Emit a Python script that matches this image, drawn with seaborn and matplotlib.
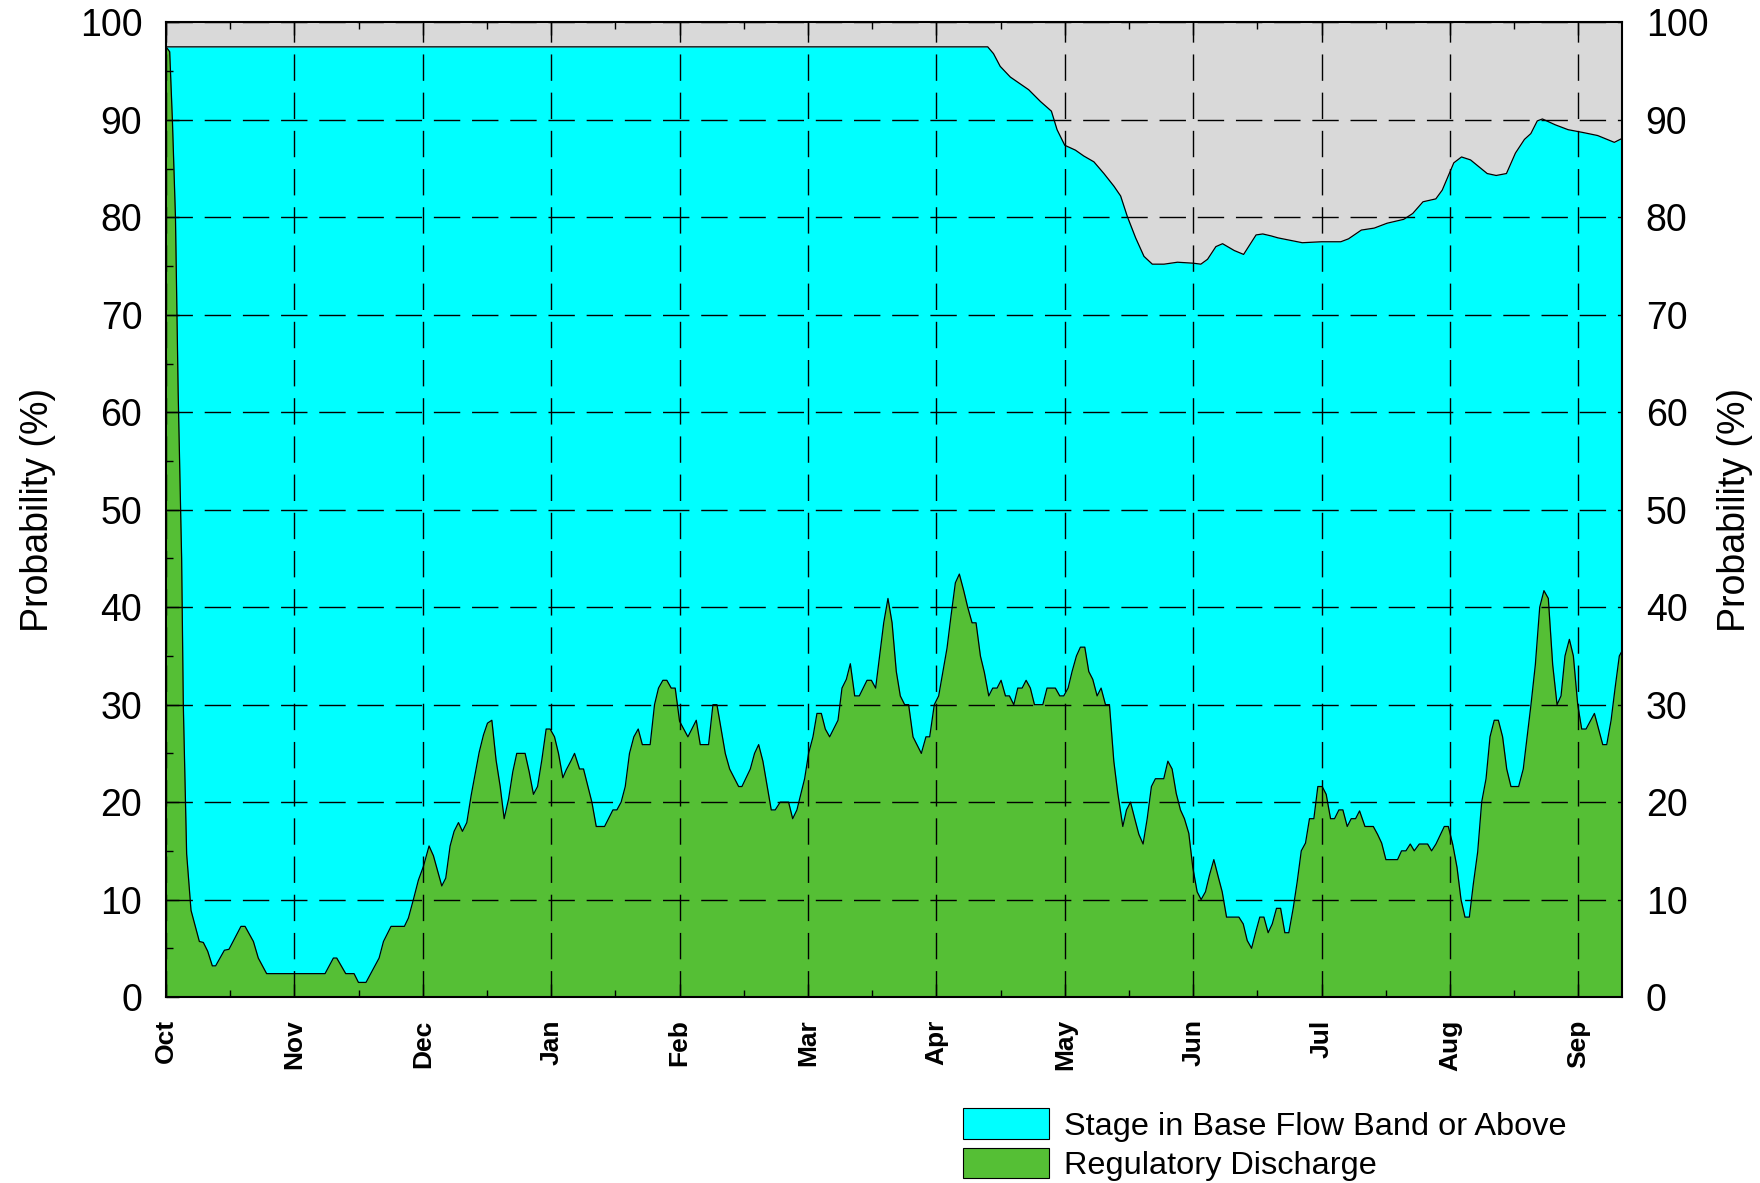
import numpy as np
import pandas as pd
import matplotlib.pyplot as plt
import seaborn as sns
from matplotlib.patches import Patch

sns.set_style("white")
plt.rcParams['font.family'] = ['Liberation Sans', 'DejaVu Sans']
plt.rcParams['text.color'] = 'black'
plt.rcParams['axes.labelcolor'] = 'black'
plt.rcParams['xtick.color'] = 'black'
plt.rcParams['ytick.color'] = 'black'

# month labels, x axis runs in months from Oct 1
months = ["Oct", "Nov", "Dec", "Jan", "Feb", "Mar", "Apr", "May", "Jun", "Jul", "Aug", "Sep"]

# Stage in Base Flow Band or Above (%)
stage_x = [0.0, 6.40, 6.445, 6.497, 6.576, 6.719, 6.810, 6.896, 6.940, 7.0, 7.083, 7.148,
           7.227, 7.305, 7.383, 7.435, 7.487, 7.552, 7.617, 7.682, 7.773, 7.878, 8.0, 8.060,
           8.112, 8.177, 8.229, 8.320, 8.393, 8.490, 8.542, 8.607, 8.66, 8.85, 9.0, 9.15,
           9.21, 9.31, 9.41, 9.51, 9.64, 9.71, 9.79, 9.89, 9.94, 10.03, 10.09, 10.16, 10.29,
           10.36, 10.44, 10.51, 10.58, 10.63, 10.68, 10.72, 10.82, 10.92, 11.04, 11.15,
           11.28, 11.34]
stage_y = [97.5, 97.5, 96.8, 95.5, 94.4, 93.1, 91.9, 90.9, 89.0, 87.4, 86.9, 86.3,
           85.7, 84.5, 83.2, 82.2, 80.1, 77.9, 76.0, 75.2, 75.2, 75.4, 75.3, 75.2,
           75.7, 77.0, 77.3, 76.6, 76.2, 78.2, 78.3, 78.1, 77.9, 77.4, 77.5, 77.5,
           77.8, 78.7, 78.9, 79.4, 79.8, 80.4, 81.6, 81.9, 82.8, 85.6, 86.2, 85.9, 84.5,
           84.3, 84.5, 86.6, 88.0, 88.6, 89.9, 90.1, 89.5, 89.0, 88.7, 88.4,
           87.7, 88.1]

# Regulatory Discharge (%)
reg_x = [0.0, 0.029, 0.05, 0.074, 0.095, 0.122, 0.135, 0.161, 0.195, 0.260, 0.291, 0.325,
         0.361, 0.387, 0.455, 0.491, 0.584, 0.616, 0.681, 0.719, 0.784, 1.239, 1.304, 1.330,
         1.400, 1.465, 1.499, 1.558, 1.660, 1.694, 1.753, 1.857, 1.888, 1.927, 1.966, 2.005,
         2.049, 2.083, 2.148, 2.179, 2.213, 2.244, 2.278, 2.309, 2.343, 2.377, 2.439, 2.473,
         2.504, 2.538, 2.571, 2.603, 2.634, 2.668, 2.701, 2.732, 2.797, 2.829, 2.862, 2.894,
         2.927, 2.961, 2.992, 3.026, 3.057, 3.091, 3.117, 3.153, 3.182, 3.221, 3.252, 3.317,
         3.351, 3.416, 3.481, 3.512, 3.545, 3.577, 3.610, 3.644, 3.678, 3.710, 3.771, 3.805,
         3.836, 3.870, 3.901, 3.935, 3.966, 4.000, 4.065, 4.130, 4.161, 4.226, 4.260, 4.291,
         4.356, 4.390, 4.460, 4.486, 4.551, 4.584, 4.616, 4.649, 4.714, 4.745, 4.784, 4.849,
         4.881, 4.914, 4.974, 5.005, 5.039, 5.070, 5.104, 5.135, 5.169, 5.234, 5.265, 5.299,
         5.330, 5.364, 5.400, 5.460, 5.494, 5.527, 5.558, 5.590, 5.623, 5.655, 5.688, 5.719,
         5.753, 5.784, 5.818, 5.849, 5.883, 5.919, 5.948, 5.984, 6.018, 6.083, 6.114, 6.148,
         6.179, 6.213, 6.244, 6.278, 6.309, 6.343, 6.374, 6.408, 6.439, 6.473, 6.504, 6.538,
         6.569, 6.603, 6.634, 6.668, 6.699, 6.732, 6.764, 6.829, 6.862, 6.927, 6.961, 6.992,
         7.026, 7.057, 7.091, 7.122, 7.156, 7.187, 7.218, 7.252, 7.283, 7.317, 7.348, 7.382,
         7.413, 7.452, 7.481, 7.512, 7.545, 7.577, 7.610, 7.642, 7.675, 7.706, 7.771, 7.803,
         7.836, 7.868, 7.901, 7.932, 7.966, 7.997, 8.031, 8.062, 8.096, 8.127, 8.161, 8.192,
         8.226, 8.260, 8.291, 8.356, 8.390, 8.421, 8.455, 8.486, 8.519, 8.551, 8.584, 8.616,
         8.649, 8.681, 8.714, 8.745, 8.779, 8.810, 8.842, 8.875, 8.906, 8.940, 8.971, 9.005,
         9.036, 9.070, 9.101, 9.135, 9.166, 9.200, 9.231, 9.265, 9.296, 9.338, 9.403, 9.436,
         9.468, 9.501, 9.592, 9.623, 9.657, 9.691, 9.722, 9.761, 9.826, 9.857, 9.891, 9.956,
         9.987, 10.021, 10.055, 10.086, 10.117, 10.151, 10.182, 10.216, 10.247, 10.281,
         10.312, 10.345, 10.377, 10.410, 10.442, 10.475, 10.535, 10.571, 10.600, 10.631,
         10.665, 10.699, 10.732, 10.766, 10.800, 10.834, 10.865, 10.896, 10.930, 10.961,
         10.995, 11.026, 11.060, 11.125, 11.190, 11.221, 11.255, 11.286, 11.319, 11.34]
reg_y = [97.5, 97.0, 90.0, 80.0, 62.0, 45.0, 30.0, 14.7, 8.9, 5.7, 5.6, 4.7,
         3.2, 3.2, 4.8, 4.9, 7.25, 7.25, 5.7, 4.0, 2.4, 2.4, 4.0, 4.0,
         2.4, 2.4, 1.5, 1.5, 4.0, 5.7, 7.25, 7.25, 8.1, 10.0, 12.0, 13.4,
         15.5, 14.5, 11.4, 12.2, 15.5, 17.0, 17.9, 17.0, 17.9, 20.7, 25.1, 26.9,
         28.1, 28.4, 24.3, 21.6, 18.3, 20.3, 23.1, 25.0, 25.0, 23.1, 20.8, 21.6,
         24.3, 27.5, 27.5, 26.7, 25.0, 22.5, 23.3, 24.2, 25.0, 23.4, 23.4, 20.0,
         17.5, 17.5, 19.2, 19.2, 20.0, 21.6, 25.0, 26.7, 27.5, 25.9, 25.9, 30.0,
         31.7, 32.5, 32.5, 31.7, 31.7, 28.3, 26.7, 28.4, 25.9, 25.9, 30.0, 30.0,
         25.0, 23.4, 21.6, 21.6, 23.4, 25.0, 25.9, 24.2, 19.2, 19.2, 20.0, 20.0,
         18.3, 19.2, 22.4, 25.0, 26.7, 29.1, 29.1, 27.5, 26.7, 28.4, 31.7, 32.6,
         34.2, 30.9, 30.9, 32.5, 32.5, 31.7, 35.0, 38.4, 40.9, 38.4, 33.4, 30.9,
         30.0, 30.0, 26.7, 25.9, 25.0, 26.7, 26.7, 30.0, 30.9, 35.8, 39.1, 42.5,
         43.4, 41.7, 40.0, 38.4, 38.4, 35.0, 33.3, 30.9, 31.7, 31.7, 32.5, 30.9,
         30.9, 30.0, 31.7, 31.7, 32.5, 31.7, 30.0, 30.0, 31.7, 31.7, 30.9, 30.9,
         31.7, 33.4, 35.0, 35.9, 35.9, 33.4, 32.6, 30.9, 31.7, 30.0, 30.0, 24.2,
         20.9, 17.5, 19.2, 20.0, 18.3, 16.7, 15.7, 18.3, 21.6, 22.4, 22.4, 24.2,
         23.4, 20.9, 19.2, 18.3, 16.8, 13.3, 10.8, 10.0, 10.8, 12.5, 14.1, 12.5,
         10.8, 8.2, 8.2, 8.2, 7.5, 5.8, 5.0, 6.6, 8.2, 8.2, 6.6, 7.5,
         9.1, 9.1, 6.6, 6.6, 9.1, 11.8, 15.0, 15.8, 18.3, 18.3, 21.6, 21.6,
         20.8, 18.3, 18.3, 19.2, 19.2, 17.5, 18.3, 18.3, 19.1, 17.5, 17.5, 16.7,
         15.8, 14.1, 14.1, 15.0, 15.0, 15.7, 15.0, 15.7, 15.7, 15.0, 15.7, 17.5,
         17.5, 15.7, 13.3, 10.0, 8.2, 8.2, 11.6, 14.9, 20.0, 22.4,
         26.7, 28.4, 28.4, 26.7, 23.4, 21.6, 21.6, 23.4, 26.6, 30.0,
         34.1, 40.0, 41.7, 40.9, 34.1, 30.0, 30.9, 35.0, 36.7, 35.0,
         30.0, 27.5, 27.5, 29.1, 25.9, 25.9, 28.4, 31.7, 35.0, 35.5]

stage = pd.DataFrame({"month": stage_x, "pct": stage_y})
reg = pd.DataFrame({"month": reg_x, "pct": reg_y})

cyan = "#00ffff"
green = "#55bf35"

fig = plt.figure(figsize=(17.6, 11.83), dpi=100)
ax = fig.add_axes([0.0943, 0.1572, 0.8273, 0.8238])
ax.set_facecolor("#d9d9d9")

ax.fill_between(stage["month"], 0, stage["pct"], color=cyan, lw=0, zorder=1)
ax.fill_between(reg["month"], 0, reg["pct"], color=green, lw=0, zorder=1.1)
sns.lineplot(data=stage, x="month", y="pct", color="black", lw=0.9, estimator=None, ax=ax, zorder=1.2)
sns.lineplot(data=reg, x="month", y="pct", color="black", lw=0.9, estimator=None, ax=ax, zorder=1.3)

ax.set_xlim(0, 11.34)
ax.set_ylim(0, 100)
ax.set_xlabel("")
ax.set_ylabel("Probability (%)", fontsize=27, labelpad=17)

ax.set_xticks(range(12))
ax.set_xticklabels(months, rotation=90, fontweight="bold", fontsize=19)
ax.set_xticks(np.arange(0.5, 11.5, 1), minor=True)
ax.set_yticks(range(0, 101, 10))
ax.set_yticks(range(5, 100, 10), minor=True)

ax.set_axisbelow(False)
ax.grid(True, which="major", color="black", lw=1.0, linestyle=(0, (19, 8.5)))

ax.tick_params(axis="both", which="major", direction="in", length=9.4, width=1.0,
               top=True, right=True, bottom=True, left=True, color="black")
ax.tick_params(axis="both", which="minor", direction="in", length=4.7, width=1.0,
               top=True, right=True, bottom=True, left=True, color="black")
ax.tick_params(axis="y", labelsize=27, pad=17)
ax.tick_params(axis="x", labelsize=19, pad=16)

for s in ax.spines.values():
    s.set_color("black")
    s.set_linewidth(1.5)

ax2 = ax.twinx()
ax2.set_ylim(0, 100)
ax2.set_yticks(range(0, 101, 10))
ax2.set_yticks(range(5, 100, 10), minor=True)
ax2.tick_params(axis="y", which="both", direction="in", length=0, labelsize=27, pad=17)
ax2.set_ylabel("Probability (%)", fontsize=27, labelpad=6)
for s in ax2.spines.values():
    s.set_visible(False)

handles = [Patch(facecolor=cyan, edgecolor="black", lw=0.8, label="Stage in Base Flow Band or Above"),
           Patch(facecolor=green, edgecolor="black", lw=0.8, label="Regulatory Discharge")]
fig.legend(handles=handles, loc="upper left", bbox_to_anchor=(0.547, 0.063), frameon=False,
           fontsize=23.4, handlelength=2.65, handleheight=1.05, handletextpad=0.46,
           labelspacing=0.2, borderpad=0, borderaxespad=0)

fig.savefig("out.png", dpi=100)
